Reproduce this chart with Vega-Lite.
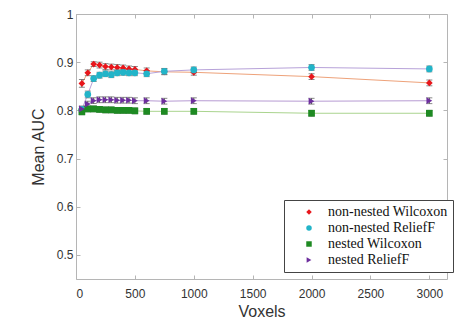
{
  "$schema": "https://vega.github.io/schema/vega-lite/v6.json",
  "autosize": {"type": "none"},
  "padding": {"left": 76, "top": 14, "right": 20, "bottom": 46},
  "width": 371,
  "height": 265,
  "background": "white",
  "config": {
    "view": {"stroke": null},
    "axis": {
      "domainColor": "#b5b5b5", "tickColor": "#b5b5b5", "tickSize": -4, "grid": false,
      "labelColor": "#333", "labelFont": "Liberation Sans", "labelFontSize": 12,
      "titleColor": "#333", "titleFont": "Liberation Sans", "titleFontSize": 16, "titleFontWeight": "normal"
    },
    "legend": {
      "orient": "none", "legendX": 208, "legendY": 186,
      "strokeColor": "#444", "fillColor": "white", "padding": 5,
      "labelFont": "Liberation Serif", "labelFontSize": 14, "labelColor": "#111",
      "rowPadding": 2, "symbolSize": 30, "symbolOffset": 13, "labelOffset": 12
    }
  },
  "data": {"values": [
    {"n": 50, "method": "non-nested Wilcoxon", "auc": 0.856, "err": 0.008},
    {"n": 100, "method": "non-nested Wilcoxon", "auc": 0.878, "err": 0.006},
    {"n": 150, "method": "non-nested Wilcoxon", "auc": 0.896, "err": 0.005},
    {"n": 200, "method": "non-nested Wilcoxon", "auc": 0.894, "err": 0.006},
    {"n": 250, "method": "non-nested Wilcoxon", "auc": 0.891, "err": 0.006},
    {"n": 300, "method": "non-nested Wilcoxon", "auc": 0.890, "err": 0.006},
    {"n": 350, "method": "non-nested Wilcoxon", "auc": 0.889, "err": 0.006},
    {"n": 400, "method": "non-nested Wilcoxon", "auc": 0.888, "err": 0.006},
    {"n": 450, "method": "non-nested Wilcoxon", "auc": 0.886, "err": 0.006},
    {"n": 500, "method": "non-nested Wilcoxon", "auc": 0.885, "err": 0.006},
    {"n": 600, "method": "non-nested Wilcoxon", "auc": 0.882, "err": 0.006},
    {"n": 750, "method": "non-nested Wilcoxon", "auc": 0.880, "err": 0.006},
    {"n": 1000, "method": "non-nested Wilcoxon", "auc": 0.879, "err": 0.006},
    {"n": 2000, "method": "non-nested Wilcoxon", "auc": 0.870, "err": 0.006},
    {"n": 3000, "method": "non-nested Wilcoxon", "auc": 0.857, "err": 0.006},
    {"n": 50, "method": "non-nested ReliefF", "auc": 0.802, "err": 0.006},
    {"n": 100, "method": "non-nested ReliefF", "auc": 0.833, "err": 0.007},
    {"n": 150, "method": "non-nested ReliefF", "auc": 0.866, "err": 0.006},
    {"n": 200, "method": "non-nested ReliefF", "auc": 0.873, "err": 0.006},
    {"n": 250, "method": "non-nested ReliefF", "auc": 0.876, "err": 0.006},
    {"n": 300, "method": "non-nested ReliefF", "auc": 0.874, "err": 0.006},
    {"n": 350, "method": "non-nested ReliefF", "auc": 0.878, "err": 0.006},
    {"n": 400, "method": "non-nested ReliefF", "auc": 0.879, "err": 0.006},
    {"n": 450, "method": "non-nested ReliefF", "auc": 0.878, "err": 0.006},
    {"n": 500, "method": "non-nested ReliefF", "auc": 0.878, "err": 0.006},
    {"n": 600, "method": "non-nested ReliefF", "auc": 0.876, "err": 0.006},
    {"n": 750, "method": "non-nested ReliefF", "auc": 0.881, "err": 0.006},
    {"n": 1000, "method": "non-nested ReliefF", "auc": 0.884, "err": 0.006},
    {"n": 2000, "method": "non-nested ReliefF", "auc": 0.889, "err": 0.006},
    {"n": 3000, "method": "non-nested ReliefF", "auc": 0.886, "err": 0.006},
    {"n": 50, "method": "nested Wilcoxon", "auc": 0.797, "err": 0.006},
    {"n": 100, "method": "nested Wilcoxon", "auc": 0.803, "err": 0.006},
    {"n": 150, "method": "nested Wilcoxon", "auc": 0.803, "err": 0.006},
    {"n": 200, "method": "nested Wilcoxon", "auc": 0.802, "err": 0.006},
    {"n": 250, "method": "nested Wilcoxon", "auc": 0.801, "err": 0.006},
    {"n": 300, "method": "nested Wilcoxon", "auc": 0.801, "err": 0.006},
    {"n": 350, "method": "nested Wilcoxon", "auc": 0.800, "err": 0.006},
    {"n": 400, "method": "nested Wilcoxon", "auc": 0.800, "err": 0.006},
    {"n": 450, "method": "nested Wilcoxon", "auc": 0.800, "err": 0.006},
    {"n": 500, "method": "nested Wilcoxon", "auc": 0.799, "err": 0.006},
    {"n": 600, "method": "nested Wilcoxon", "auc": 0.798, "err": 0.006},
    {"n": 750, "method": "nested Wilcoxon", "auc": 0.798, "err": 0.006},
    {"n": 1000, "method": "nested Wilcoxon", "auc": 0.798, "err": 0.006},
    {"n": 2000, "method": "nested Wilcoxon", "auc": 0.794, "err": 0.006},
    {"n": 3000, "method": "nested Wilcoxon", "auc": 0.794, "err": 0.006},
    {"n": 50, "method": "nested ReliefF", "auc": 0.803, "err": 0.006},
    {"n": 100, "method": "nested ReliefF", "auc": 0.813, "err": 0.006},
    {"n": 150, "method": "nested ReliefF", "auc": 0.820, "err": 0.006},
    {"n": 200, "method": "nested ReliefF", "auc": 0.822, "err": 0.006},
    {"n": 250, "method": "nested ReliefF", "auc": 0.822, "err": 0.006},
    {"n": 300, "method": "nested ReliefF", "auc": 0.822, "err": 0.006},
    {"n": 350, "method": "nested ReliefF", "auc": 0.821, "err": 0.006},
    {"n": 400, "method": "nested ReliefF", "auc": 0.821, "err": 0.006},
    {"n": 450, "method": "nested ReliefF", "auc": 0.821, "err": 0.006},
    {"n": 500, "method": "nested ReliefF", "auc": 0.820, "err": 0.006},
    {"n": 600, "method": "nested ReliefF", "auc": 0.820, "err": 0.006},
    {"n": 750, "method": "nested ReliefF", "auc": 0.819, "err": 0.006},
    {"n": 1000, "method": "nested ReliefF", "auc": 0.820, "err": 0.006},
    {"n": 2000, "method": "nested ReliefF", "auc": 0.819, "err": 0.006},
    {"n": 3000, "method": "nested ReliefF", "auc": 0.820, "err": 0.006}
  ]},
  "resolve": {"axis": {"x": "independent", "y": "independent"}},
  "layer": [
    {
      "mark": {"type": "line", "strokeWidth": 1},
      "encoding": {
        "x": {"field": "n", "type": "quantitative", "title": "Voxels",
              "scale": {"domain": [0, 3150], "nice": false},
              "axis": {"values": [0, 500, 1000, 1500, 2000, 2500, 3000], "format": "d", "labelPadding": 13, "titlePadding": 4}},
        "y": {"field": "auc", "type": "quantitative", "title": "Mean AUC",
              "scale": {"domain": [0.45, 1], "nice": false, "zero": false},
              "axis": {"values": [0.5, 0.6, 0.7, 0.8, 0.9, 1], "labelPadding": 7, "titlePadding": 10, "format": "~g"}},
        "stroke": {"field": "method", "type": "nominal", "legend": null,
                   "scale": {"range": ["#b79bd3", "#aad48e", "#b7a2d9", "#eea27a"]}}
      }
    },
    {
      "mark": {"type": "errorbar", "ticks": {"size": 6}, "color": "#555", "thickness": 1},
      "encoding": {
        "x": {"field": "n", "type": "quantitative", "axis": null},
        "y": {"field": "auc", "type": "quantitative", "axis": null},
        "yError": {"field": "err"},
        "detail": {"field": "method"}
      }
    },
    {
      "mark": {"type": "point", "filled": true, "size": 45, "opacity": 1},
      "encoding": {
        "x": {"field": "n", "type": "quantitative",
              "axis": {"orient": "top", "labels": false, "title": null, "values": [0, 500, 1000, 1500, 2000, 2500, 3000]}},
        "y": {"field": "auc", "type": "quantitative",
              "axis": {"orient": "right", "labels": false, "title": null, "values": [0.5, 0.6, 0.7, 0.8, 0.9, 1]}},
        "color": {"field": "method", "type": "nominal",
                  "scale": {"domain": ["non-nested Wilcoxon", "non-nested ReliefF", "nested Wilcoxon", "nested ReliefF"],
                            "range": ["#e8161b", "#22b4c8", "#1e8a22", "#6d2e9e"]},
                  "legend": {"title": null,
                             "encode": {"labels": {"update": {"font": {"value": "Liberation Serif"}, "fontSize": {"value": 14}}}}}},
        "shape": {"field": "method", "type": "nominal",
                  "scale": {"domain": ["non-nested Wilcoxon", "non-nested ReliefF", "nested Wilcoxon", "nested ReliefF"],
                            "range": ["diamond", "circle", "square", "triangle-right"]},
                  "legend": {"title": null,
                             "encode": {"labels": {"update": {"font": {"value": "Liberation Serif"}, "fontSize": {"value": 14}}}}}}
      }
    }
  ]
}
